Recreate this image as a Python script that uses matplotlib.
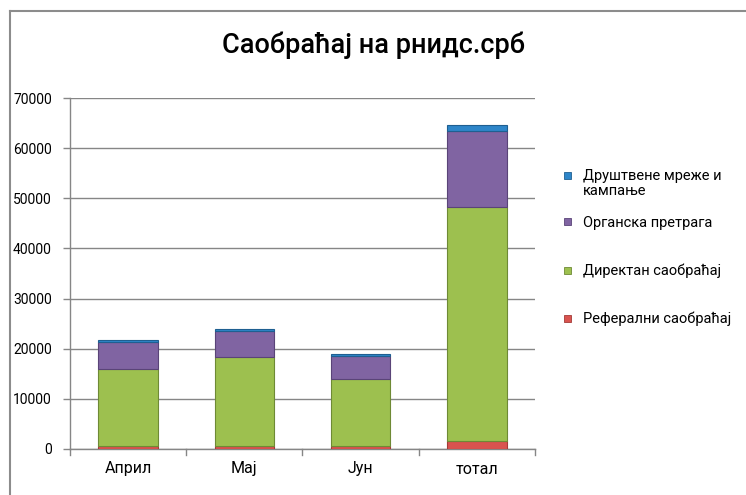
import matplotlib.pyplot as plt
from matplotlib.lines import Line2D
from matplotlib.patches import Rectangle

plt.rcParams['font.family'] = ['Roboto', 'DejaVu Sans']

months = ['Април', 'Мај', 'Јун', 'тотал']
referral = [550, 520, 530, 1600]
direct = [15350, 17880, 13470, 46700]
organic = [5440, 5200, 4550, 15190]
social = [400, 400, 340, 1140]

names = ['Реферални саобраћај', 'Директан саобраћај', 'Органска претрага',
         'Друштвене мреже и\nкампање']
values = [referral, direct, organic, social]
colors = ['#D9534F', '#9DC04F', '#8064A2', '#2E86C9']
edges = ['#A33B38', '#6E8A35', '#5A4478', '#1F5F91']

fig = plt.figure(figsize=(7.46, 4.95), dpi=100)
W, H = 746, 495
ax = fig.add_axes([70 / W, 1 - 449 / H, 465 / W, 351 / H])

x = list(range(len(months)))
bottom = [0] * len(months)
for name, vals, c, e in zip(names, values, colors, edges):
    ax.bar(x, vals, width=0.51, bottom=bottom, color=c, edgecolor=e,
           linewidth=0.8, zorder=3, label=name)
    bottom = [b + v for b, v in zip(bottom, vals)]

ax.set_xlim(-0.5, len(months) - 0.5)
ax.set_ylim(0, 70000)
ax.set_yticks(range(0, 70001, 10000))
ax.set_xticks(x)
ax.set_xticklabels(months, fontsize=11.5)
ax.tick_params(axis='y', labelsize=10, length=5, color='#868686', width=1, pad=8)
ax.tick_params(axis='x', length=0, pad=9)
# category separators on x axis
for b in [-0.5, 0.5, 1.5, 2.5, 3.5]:
    ax.plot([b, b], [0, -1200], color='#868686', lw=1, clip_on=False, zorder=4)
ax.grid(axis='y', color='#868686', lw=1, zorder=0)
for s in ['top', 'right']:
    ax.spines[s].set_visible(False)
for s in ['left', 'bottom']:
    ax.spines[s].set_color('#868686')
    ax.spines[s].set_linewidth(1)

fig.text(374 / W, 1 - 45 / H, 'Саобраћај на рнидс.срб', ha='center', va='center',
         fontsize=19.5, fontweight='medium')

# legend drawn by hand, Excel style (entries evenly spaced by first line)
leg_y = [318, 270, 222, 175]
for name, c, e, yy in zip(names, colors, edges, leg_y):
    fig.add_artist(Rectangle(((567 - 3.5) / W, 1 - (yy + 3.5) / H), 7 / W, 7 / H,
                             transform=fig.transFigure, facecolor=c, edgecolor=e, lw=0.6))
    fig.text(583 / W, 1 - (yy - 6.5) / H, name, ha='left', va='top', fontsize=10.5,
             linespacing=1.15)

fig.add_artist(Line2D([9.5 / W, 9.5 / W], [0, 1 - 10.5 / H], color='#8C8C8C', lw=1.5))
fig.add_artist(Line2D([9.5 / W, 1], [1 - 10.5 / H, 1 - 10.5 / H], color='#8C8C8C', lw=1.5))

fig.savefig('out.png', dpi=100)
